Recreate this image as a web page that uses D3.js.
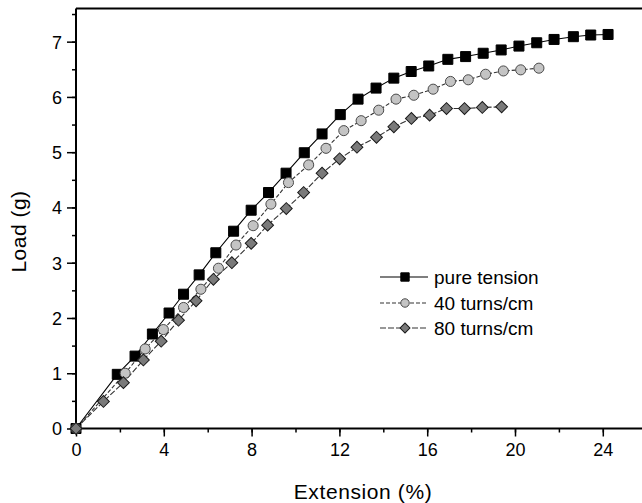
<!DOCTYPE html>
<html><head><meta charset="utf-8">
<script src="https://cdn.jsdelivr.net/npm/d3@7"></script>
<style>
html,body{margin:0;padding:0;background:#fff;}
svg{display:block;font-family:"Liberation Sans",Arial,sans-serif;}
</style></head>
<body>
<svg id="c" width="642" height="503"></svg>
<script>
// ---- data ----
const seriesNames = ["pure tension", "40 turns/cm", "80 turns/cm"];
const extTension = [0, 1.88, 2.69, 3.48, 4.24, 4.90, 5.61, 6.37, 7.18, 7.98, 8.77, 9.57, 10.40, 11.21, 12.04, 12.85, 13.67, 14.48, 15.27, 16.07, 16.94, 17.75, 18.55, 19.37, 20.18, 20.99, 21.78, 22.66, 23.45, 24.24];
const loadTension = [0, 0.98, 1.31, 1.71, 2.09, 2.43, 2.78, 3.18, 3.57, 3.95, 4.27, 4.62, 4.99, 5.33, 5.68, 5.96, 6.16, 6.34, 6.46, 6.56, 6.68, 6.73, 6.79, 6.85, 6.92, 6.98, 7.04, 7.09, 7.12, 7.13];
const ext40 = [0, 2.24, 3.15, 3.98, 4.90, 5.69, 6.49, 7.29, 8.07, 8.88, 9.68, 10.60, 11.39, 12.20, 12.99, 13.79, 14.58, 15.39, 16.27, 17.06, 17.87, 18.66, 19.47, 20.26, 21.09];
const load40 = [0, 1.00, 1.44, 1.79, 2.19, 2.52, 2.90, 3.32, 3.67, 4.06, 4.45, 4.77, 5.07, 5.39, 5.57, 5.76, 5.96, 6.03, 6.14, 6.28, 6.31, 6.41, 6.47, 6.49, 6.52];
const ext80 = [0, 1.25, 2.16, 3.07, 3.88, 4.67, 5.47, 6.26, 7.10, 7.98, 8.73, 9.58, 10.37, 11.21, 12.01, 12.80, 13.69, 14.48, 15.28, 16.11, 16.88, 17.70, 18.51, 19.39];
const load80 = [0, 0.49, 0.83, 1.24, 1.58, 1.96, 2.31, 2.70, 3.00, 3.35, 3.68, 3.98, 4.27, 4.62, 4.88, 5.09, 5.27, 5.46, 5.61, 5.67, 5.79, 5.79, 5.81, 5.82];
const xTickValues = [0, 4, 8, 12, 16, 20, 24];
const yTickValues = [0, 1, 2, 3, 4, 5, 6, 7];
const xTitle = "Extension (%)";
const yTitle = "Load (g)";

// ---- layout ----
const svg = d3.select("#c");
const mLeft = 76, mRight = 646.7, mTop = 8.5, mBottom = 428.5;
const x = d3.scaleLinear().domain([0, 26]).range([mLeft, mRight]);
const y = d3.scaleLinear().domain([0, 7.6]).range([mBottom, mTop]);

const series = [
  {name: seriesNames[0], xs: extTension, ys: loadTension, shape: d3.symbolSquare, size: 100, rot: 0, fill: "#000", stroke: "#000", dash: null, lstroke: "#000"},
  {name: seriesNames[1], xs: ext40, ys: load40, shape: d3.symbolCircle, size: 80, rot: 0, fill: "#c4c4c4", stroke: "#4a4a4a", dash: "4,2", lstroke: "#333"},
  {name: seriesNames[2], xs: ext80, ys: load80, shape: d3.symbolSquare, size: 70, rot: 45, fill: "#7a7a7a", stroke: "#1a1a1a", dash: "6,2", lstroke: "#333"}
];

// ticks
const gx = svg.append("g").attr("transform", `translate(0,${mBottom})`);
gx.call(d3.axisBottom(x).tickValues(d3.range(0, 26.01, 2)).tickSize(4).tickFormat(""));
const gx2 = svg.append("g").attr("transform", `translate(0,${mBottom})`);
gx2.call(d3.axisBottom(x).tickValues(xTickValues).tickSize(8).tickFormat(d3.format("d")));
[gx, gx2].forEach(g => {
  g.selectAll(".domain").remove();
  g.selectAll("line").attr("stroke", "#000").attr("stroke-width", 1.5);
});
gx2.selectAll("text").attr("fill", "#000").attr("font-size", 18).attr("y", 0).attr("dy", 0)
  .attr("transform", "translate(0,27)").attr("font-family", "Liberation Sans, Arial, sans-serif");

const gy = svg.append("g").attr("transform", `translate(${mLeft},0)`);
gy.call(d3.axisLeft(y).tickValues(d3.range(0, 7.51, 0.5)).tickSize(4).tickFormat(""));
const gy2 = svg.append("g").attr("transform", `translate(${mLeft},0)`);
gy2.call(d3.axisLeft(y).tickValues(yTickValues).tickSize(9).tickFormat(d3.format("d")));
[gy, gy2].forEach(g => {
  g.selectAll(".domain").remove();
  g.selectAll("line").attr("stroke", "#000").attr("stroke-width", 1.5);
});
gy2.selectAll("text").attr("fill", "#000").attr("font-size", 18).attr("x", -14).attr("dy", "0.36em")
  .attr("font-family", "Liberation Sans, Arial, sans-serif");

// axis lines / frame
svg.append("line").attr("x1", mLeft).attr("x2", 642).attr("y1", mBottom).attr("y2", mBottom).attr("stroke", "#000").attr("stroke-width", 2);
svg.append("line").attr("x1", mLeft).attr("x2", mLeft).attr("y1", mTop).attr("y2", mBottom).attr("stroke", "#000").attr("stroke-width", 2);
svg.append("line").attr("x1", mLeft).attr("x2", 642).attr("y1", mTop).attr("y2", mTop).attr("stroke", "#000").attr("stroke-width", 2);

// titles
svg.append("text").attr("x", 363).attr("y", 499).attr("text-anchor", "middle")
  .attr("font-size", 21).attr("letter-spacing", 0.6).text(xTitle);
svg.append("text").attr("transform", "translate(26,231.5) rotate(-90)").attr("text-anchor", "middle")
  .attr("font-size", 21).attr("letter-spacing", 0.5).text(yTitle);

// series
const line = d3.line().x(d => x(d[0])).y(d => y(d[1]));
series.forEach(s => {
  const pts = s.xs.map((v, i) => [v, s.ys[i]]);
  svg.append("path").datum(pts).attr("d", line).attr("fill", "none")
    .attr("stroke", s.lstroke).attr("stroke-width", 1.1).attr("stroke-dasharray", s.dash);
});
series.forEach(s => {
  const pts = s.xs.map((v, i) => [v, s.ys[i]]);
  svg.append("g").selectAll("path").data(pts).join("path")
    .attr("transform", d => `translate(${x(d[0])},${y(d[1])}) rotate(${s.rot})`)
    .attr("d", d3.symbol().type(s.shape).size(s.size))
    .attr("fill", s.fill).attr("stroke", s.stroke).attr("stroke-width", 1);
});

// legend
const legY = [277, 303, 328];
series.forEach((s, i) => {
  const g = svg.append("g").attr("transform", `translate(0,${legY[i]})`);
  g.append("line").attr("x1", 380).attr("x2", 428).attr("y1", 0).attr("y2", 0)
    .attr("stroke", s.lstroke).attr("stroke-width", 1.1).attr("stroke-dasharray", s.dash);
  g.append("path").attr("transform", `translate(405,0) rotate(${s.rot})`)
    .attr("d", d3.symbol().type(s.shape).size(s.size * 0.7))
    .attr("fill", s.fill).attr("stroke", s.stroke).attr("stroke-width", 1);
  g.append("text").attr("x", 434).attr("y", 0).attr("dy", "0.35em").attr("font-size", 19).text(s.name);
});
</script>
</body></html>
